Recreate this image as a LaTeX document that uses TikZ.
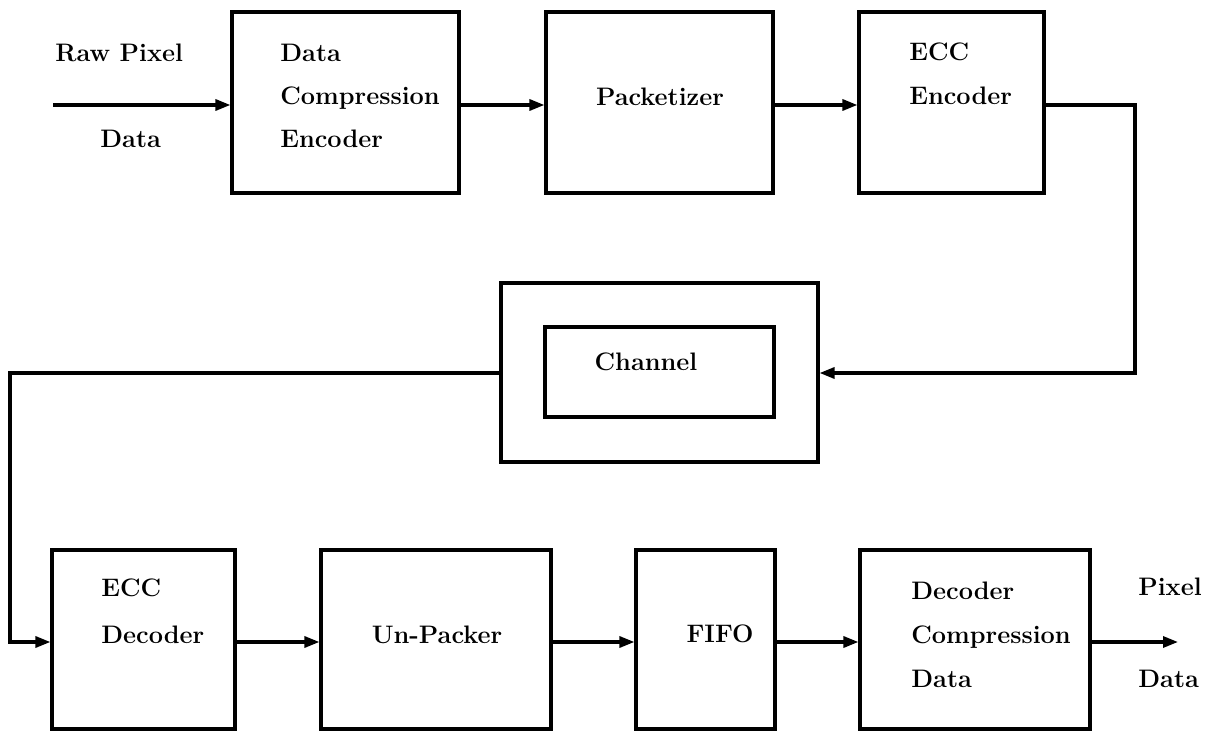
\documentclass[tikz,border=0pt]{standalone}
\usetikzlibrary{arrows.meta}
\begin{document}
\begin{tikzpicture}[x=0.02cm,y=-0.02cm,
  blk/.style={draw,line width=1.8pt,inner sep=0pt},
  lbl/.style={inner sep=0pt,anchor=base west,font=\fontsize{14.4pt}{24.5pt}\selectfont\bfseries},
  clbl/.style={inner sep=0pt,anchor=base,font=\fontsize{14.4pt}{24.5pt}\selectfont\bfseries},
  arr/.style={line width=1.8pt,-{Triangle[length=0.3cm,width=0.22cm]}}]
\useasboundingbox (0,0) rectangle (1213,732);
% boxes
\node[blk,minimum width=4.54cm,minimum height=3.62cm] (dce) at (345.5,102.5) {};
\node[blk,minimum width=4.54cm,minimum height=3.62cm] (pack) at (659.5,102.5) {};
\node[blk,minimum width=3.70cm,minimum height=3.62cm] (ecce) at (951.5,102.5) {};
\node[blk,minimum width=6.34cm,minimum height=3.58cm] (chan) at (659.5,372.5) {};
\node[blk,minimum width=4.58cm,minimum height=1.80cm] (chin) at (659.5,372) {};
\node[blk,minimum width=3.66cm,minimum height=3.58cm] (eccd) at (143.5,639.5) {};
\node[blk,minimum width=4.60cm,minimum height=3.58cm] (unp) at (436,639.5) {};
\node[blk,minimum width=2.78cm,minimum height=3.58cm] (fifo) at (705.5,639.5) {};
\node[blk,minimum width=4.60cm,minimum height=3.58cm] (dcd) at (975,639.5) {};
% texts
\node[lbl] (rawt) at (55,62) {Raw Pixel};
\node[lbl] (rawd) at (100,148) {Data};
\node[lbl] (dcet1) at (280,62) {Data};
\node[lbl] (dcet2) at (280,105) {Compression};
\node[lbl] (dcet3) at (280,148) {Encoder};
\node[clbl] (packt) at (660,106) {Packetizer};
\node[lbl] (ecct1) at (909,61) {ECC};
\node[lbl] (ecct2) at (909,105) {Encoder};
\node[clbl] (chant) at (646,371) {Channel};
\node[lbl] (eccdt1) at (101,597) {ECC};
\node[lbl] (eccdt2) at (101,643) {Decoder};
\node[clbl] (unpt) at (437,643) {Un-Packer};
\node[clbl] (fifot) at (720,642) {FIFO};
\node[lbl] (dcdt1) at (911,600) {Decoder};
\node[lbl] (dcdt2) at (911,643) {Compression};
\node[lbl] (dcdt3) at (911,687) {Data};
\node[lbl] (outp) at (1138,596) {Pixel};
\node[lbl] (outd) at (1138,687) {Data};
% connectors
\coordinate (in) at (53,105);
\coordinate (ty) at (0,105);
\coordinate (r) at (1135,373);
\coordinate (l) at (10,642);
\coordinate (by) at (0,642);
\coordinate (out) at (1178,642);
\draw[arr] (in) -- (dce.west |- in);
\draw[arr] (dce.east |- ty) -- (pack.west |- ty);
\draw[arr] (pack.east |- ty) -- (ecce.west |- ty);
\draw[arr] (ecce.east |- ty) -| (r) -- (chan.east |- r);
\draw[arr] (chan.west |- r) -| (l) -- (eccd.west |- l);
\draw[arr] (eccd.east |- by) -- (unp.west |- by);
\draw[arr] (unp.east |- by) -- (fifo.west |- by);
\draw[arr] (fifo.east |- by) -- (dcd.west |- by);
\draw[arr] (dcd.east |- by) -- (out);
\end{tikzpicture}
\end{document}
